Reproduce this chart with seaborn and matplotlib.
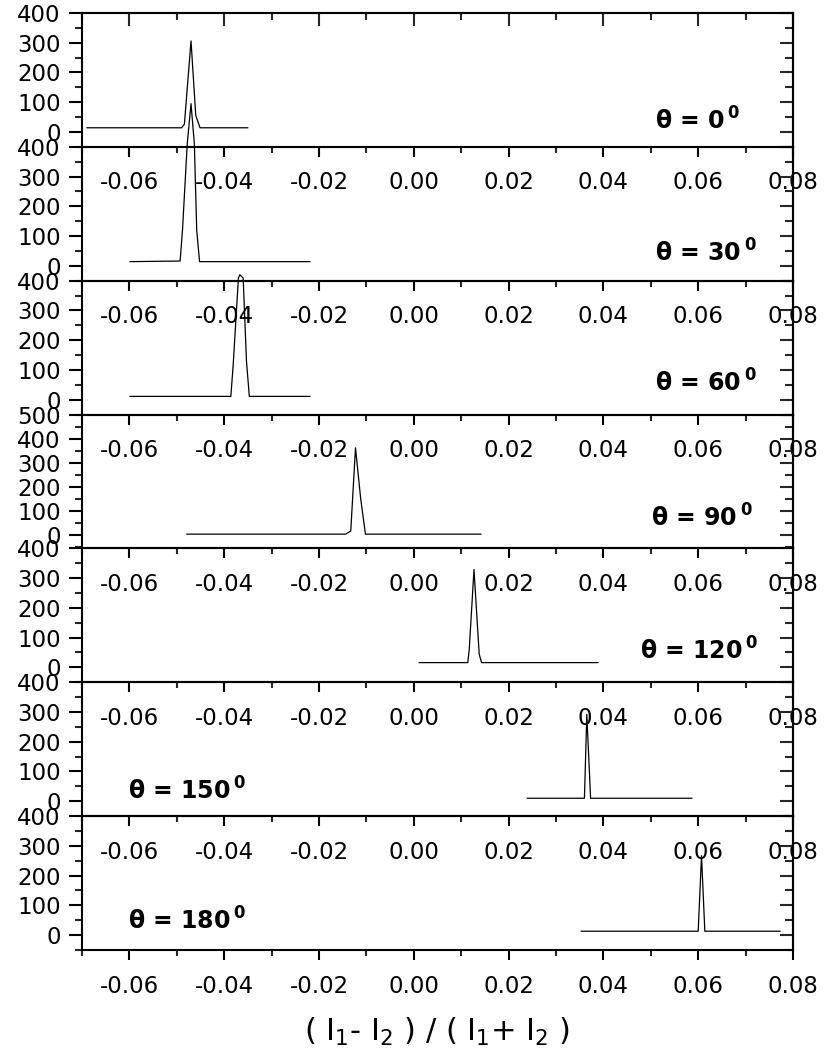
import numpy as np
import pandas as pd
import matplotlib
matplotlib.use("Agg")
import matplotlib.pyplot as plt
from matplotlib.ticker import MultipleLocator, FixedLocator
import seaborn as sns

# ---------------- data ----------------
theta_labels = ["0", "30", "60", "90", "120", "150", "180"]

x_0 = [-0.0690, -0.0490, -0.0484, -0.0470, -0.0460, -0.0451, -0.0350]
y_0 = [14, 14, 26, 306, 55, 14, 14]

x_30 = [-0.0599, -0.0493, -0.0488, -0.0478, -0.0470, -0.0463, -0.0458, -0.0452, -0.0219]
y_30 = [14, 16, 120, 410, 545, 410, 120, 14, 14]

x_60 = [-0.0599, -0.0386, -0.0381, -0.0370, -0.0367, -0.0360, -0.0353, -0.0347, -0.0219]
y_60 = [11, 11, 118, 409, 420, 409, 129, 11, 11]

x_90 = [-0.0479, -0.0144, -0.0133, -0.0123, -0.0112, -0.0102, 0.0142]
y_90 = [4, 4, 17, 362, 150, 4, 4]

x_120 = [0.0011, 0.0114, 0.0117, 0.0127, 0.0138, 0.0143, 0.0389]
y_120 = [16, 16, 61, 329, 44, 16, 16]

x_150 = [0.0239, 0.0360, 0.0365, 0.0373, 0.0587]
y_150 = [10, 10, 292, 10, 10]

x_180 = [0.0353, 0.0600, 0.0607, 0.0614, 0.0773]
y_180 = [13, 13, 267, 13, 13]

series_x = [x_0, x_30, x_60, x_90, x_120, x_150, x_180]
series_y = [y_0, y_30, y_60, y_90, y_120, y_150, y_180]

y_tops = [400, 400, 400, 500, 400, 400, 400]
y_bottoms = [-50, -50, -50, -55, -50, -50, -50]

x_major = [-0.06, -0.04, -0.02, 0.00, 0.02, 0.04, 0.06, 0.08]
x_tick_labels = ["-0.06", "-0.04", "-0.02", "0.00", "0.02", "0.04", "0.06", "0.08"]

# ---------------- style ----------------
sns.set_theme(style="ticks")
plt.rcParams["font.family"] = ["DejaVu Sans"]
plt.rcParams["mathtext.fontset"] = "dejavusans"
plt.rcParams["mathtext.default"] = "regular"
plt.rcParams["axes.unicode_minus"] = False

fig, axes = plt.subplots(7, 1, figsize=(8.25, 10.62), dpi=100)
fig.patch.set_facecolor("white")
fig.subplots_adjust(left=0.0994, right=0.9612, top=0.9878, bottom=0.1055, hspace=0)

label_x = [0.806, 0.806, 0.806, 0.800, 0.785, 0.065, 0.065]
label_y = [0.127, 0.142, 0.172, 0.164, 0.172, 0.127, 0.149]

for i, ax in enumerate(axes):
    ax.patch.set_visible(False)
    df = pd.DataFrame({"x": series_x[i], "y": series_y[i]})
    sns.lineplot(data=df, x="x", y="y", ax=ax, color="black", linewidth=0.9,
                 estimator=None, sort=False)
    for ln in ax.lines:
        ln.set_clip_on(False)
    ax.set_xlim(-0.07, 0.08)
    ax.set_ylim(y_bottoms[i], y_tops[i])
    ax.set_xlabel("")
    ax.set_ylabel("")
    ax.xaxis.set_major_locator(FixedLocator(x_major))
    ax.set_xticklabels(x_tick_labels)
    ax.xaxis.set_minor_locator(MultipleLocator(0.01))
    ax.yaxis.set_major_locator(MultipleLocator(100))
    ax.yaxis.set_minor_locator(MultipleLocator(50))
    for s in ax.spines.values():
        s.set_linewidth(1.5)
        s.set_color("black")
        s.set_visible(True)
    ax.tick_params(axis="x", which="major", direction="out", length=7.2, width=1.5,
                   pad=10.5, labelsize=16.5, bottom=True, top=False, colors="black")
    ax.tick_params(axis="x", which="minor", direction="out", length=4.3, width=1.5,
                   bottom=True, top=False)
    ax.tick_params(axis="y", which="major", direction="out", length=9.4, width=1.5,
                   pad=6, labelsize=16.5, left=True, right=False, colors="black")
    ax.tick_params(axis="y", which="minor", direction="out", length=5.0, width=1.5,
                   left=True, right=False)
    # inward right ticks
    sec_y = ax.secondary_yaxis("right")
    sec_y.yaxis.set_major_locator(MultipleLocator(100))
    sec_y.yaxis.set_minor_locator(MultipleLocator(50))
    sec_y.tick_params(axis="y", which="major", direction="in", length=9.4, width=1.5, labelright=False)
    sec_y.tick_params(axis="y", which="minor", direction="in", length=5.8, width=1.5)
    sec_y.spines["right"].set_linewidth(1.5)
    if i == 0:
        sec_x = ax.secondary_xaxis("top")
        sec_x.xaxis.set_major_locator(FixedLocator(x_major))
        sec_x.xaxis.set_minor_locator(MultipleLocator(0.01))
        sec_x.tick_params(axis="x", which="major", direction="in", length=9.4, width=1.5, labeltop=False)
        sec_x.tick_params(axis="x", which="minor", direction="in", length=5.0, width=1.5)
        sec_x.spines["top"].set_linewidth(1.5)
    ax.text(label_x[i], label_y[i], "\u03b8 = " + theta_labels[i] + r"$\,^{\mathbf{0}}$",
            transform=ax.transAxes, fontsize=17, fontweight="bold",
            ha="left", va="baseline", color="black")

axes[-1].set_xlabel(r"( I$_1$- I$_2$ ) / ( I$_1$+ I$_2$ )", fontsize=22, labelpad=13, color="black")

fig.savefig("out.png", dpi=100, facecolor="white")
